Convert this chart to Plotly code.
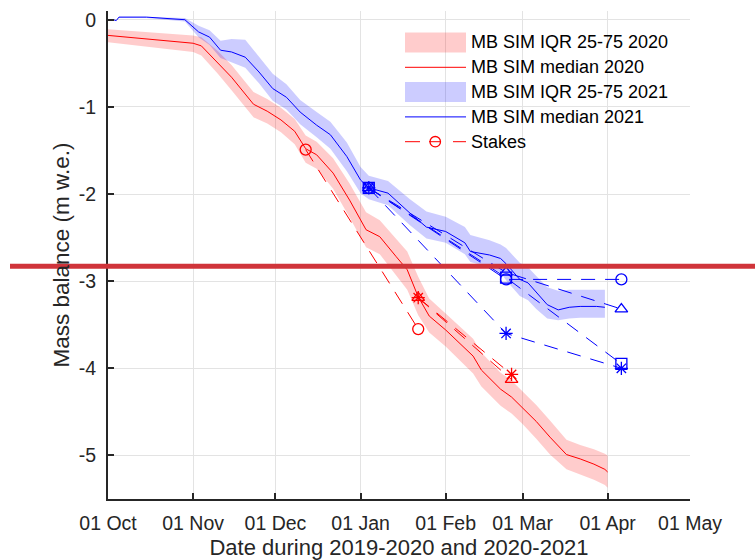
import plotly.graph_objects as go

# ---------------- data ----------------
# Season 2019-2020 (red), plotted on a common Oct-May calendar
red_dates = ["2020-10-01", "2020-10-15", "2020-11-01", "2020-11-04", "2020-11-10", "2020-11-15",
             "2020-11-23", "2020-11-28", "2020-12-03", "2020-12-08", "2020-12-12", "2020-12-16",
             "2020-12-22", "2020-12-28", "2021-01-03", "2021-01-08", "2021-01-14", "2021-01-18",
             "2021-01-22", "2021-01-26", "2021-02-01", "2021-02-06", "2021-02-11", "2021-02-14",
             "2021-02-18", "2021-02-21", "2021-02-25", "2021-03-01", "2021-03-06", "2021-03-11",
             "2021-03-17", "2021-03-22", "2021-03-27", "2021-03-31", "2021-04-01"]
red_median = [-0.18, -0.22, -0.27, -0.30, -0.49, -0.66, -0.97, -1.05, -1.15, -1.28, -1.48, -1.55,
              -1.76, -2.07, -2.41, -2.49, -2.72, -2.87, -3.18, -3.40, -3.56, -3.71, -3.86, -4.02,
              -4.14, -4.24, -4.33, -4.45, -4.61, -4.79, -4.99, -5.04, -5.10, -5.16, -5.19]
red_q25 = [-0.26, -0.31, -0.37, -0.41, -0.62, -0.81, -1.12, -1.19, -1.29, -1.43, -1.64, -1.71,
           -1.94, -2.27, -2.61, -2.69, -2.93, -3.10, -3.39, -3.59, -3.75, -3.91, -4.06, -4.21,
           -4.33, -4.43, -4.52, -4.64, -4.81, -4.99, -5.16, -5.22, -5.28, -5.34, -5.37]
red_q75 = [-0.11, -0.14, -0.18, -0.20, -0.36, -0.52, -0.83, -0.91, -1.01, -1.14, -1.33, -1.40,
           -1.59, -1.88, -2.21, -2.30, -2.52, -2.66, -2.95, -3.20, -3.37, -3.51, -3.66, -3.82,
           -3.95, -4.05, -4.14, -4.26, -4.42, -4.60, -4.82, -4.88, -4.93, -4.98, -5.00]

# Season 2020-2021 (blue)
blue_dates = ["2020-10-01", "2020-10-03", "2020-10-04", "2020-10-05", "2020-10-15", "2020-10-29",
              "2020-11-03", "2020-11-07", "2020-11-11", "2020-11-15", "2020-11-20", "2020-11-25",
              "2020-11-30", "2020-12-05", "2020-12-10", "2020-12-16", "2020-12-21", "2020-12-27",
              "2021-01-01", "2021-01-04", "2021-01-11", "2021-01-19", "2021-01-25", "2021-02-01",
              "2021-02-08", "2021-02-10", "2021-02-17", "2021-02-21", "2021-02-23", "2021-02-28",
              "2021-03-03", "2021-03-06", "2021-03-10", "2021-03-14", "2021-03-18", "2021-03-22",
              "2021-03-28", "2021-03-31"]
blue_median = [0.00, 0.00, -0.01, 0.03, 0.03, 0.00, -0.14, -0.20, -0.35, -0.37, -0.43, -0.60,
               -0.79, -0.89, -1.06, -1.21, -1.32, -1.57, -1.84, -1.93, -1.99, -2.22, -2.38, -2.43,
               -2.56, -2.66, -2.70, -2.74, -2.80, -2.98, -3.02, -3.13, -3.27, -3.33, -3.30, -3.29,
               -3.29, -3.30]
blue_q25 = [0.00, 0.00, -0.01, 0.02, 0.02, -0.02, -0.20, -0.29, -0.44, -0.49, -0.55, -0.73,
            -0.93, -1.03, -1.20, -1.35, -1.48, -1.74, -1.99, -2.06, -2.13, -2.36, -2.51, -2.56,
            -2.69, -2.78, -2.84, -2.90, -2.99, -3.17, -3.22, -3.32, -3.43, -3.45, -3.43, -3.42,
            -3.42, -3.42]
blue_q75 = [0.00, 0.00, -0.01, 0.03, 0.03, 0.02, -0.07, -0.12, -0.24, -0.22, -0.23, -0.43,
            -0.62, -0.74, -0.92, -1.06, -1.17, -1.41, -1.69, -1.79, -1.85, -2.06, -2.20, -2.26,
            -2.38, -2.47, -2.53, -2.58, -2.62, -2.79, -2.84, -2.94, -3.07, -3.11, -3.10, -3.10,
            -3.10, -3.10]

# Stakes 2019-2020 (red)
red_stake_circle_dates = ["2020-12-12", "2021-01-22"]
red_stake_circle_mb = [-1.49, -3.55]
red_stake_triangle_dates = ["2021-01-22", "2021-02-25"]
red_stake_triangle_mb = [-3.19, -4.13]
red_stake_asterisk_dates = ["2021-01-22", "2021-02-25"]
red_stake_asterisk_mb = [-3.19, -4.07]

# Stakes 2020-2021 (blue)
blue_stake_dates = ["2021-01-04", "2021-02-23", "2021-04-06"]
blue_stake_circle_mb = [-1.93, -2.98, -2.98]
blue_stake_triangle_mb = [-1.93, -2.90, -3.32]
blue_stake_square_mb = [-1.93, -2.96, -3.95]
blue_stake_asterisk_mb = [-1.93, -3.60, -4.00]

x_tick_vals = ["2020-10-01", "2020-11-01", "2020-12-01", "2021-01-01", "2021-02-01",
               "2021-03-01", "2021-04-01", "2021-05-01"]
x_tick_text = ["01 Oct", "01 Nov", "01 Dec", "01 Jan", "01 Feb", "01 Mar", "01 Apr", "01 May"]
y_tick_vals = [-5, -4, -3, -2, -1, 0]
y_tick_text = ["-5", "-4", "-3", "-2", "-1", "0"]
legend_labels = ["MB SIM IQR 25-75 2020", "MB SIM median 2020", "MB SIM IQR 25-75 2021",
                 "MB SIM median 2021", "Stakes"]
highlight_level = -2.83

# ---------------- figure ----------------
FONT = "Liberation Sans, Arial, sans-serif"
TXT = "#262626"
RED = "#ff0000"
BLUE = "#0000ff"
RED_FILL = "rgba(255,0,0,0.2)"
BLUE_FILL = "rgba(0,0,255,0.2)"
DASH = "14px,10px"
fig = go.Figure()

# IQR 2020
fig.add_trace(go.Scatter(x=red_dates, y=red_q75, mode="lines", line=dict(width=0),
                         showlegend=False, hoverinfo="skip"))
fig.add_trace(go.Scatter(x=red_dates, y=red_q25, mode="lines", line=dict(width=0),
                         fill="tonexty", fillcolor=RED_FILL, showlegend=False,
                         name=legend_labels[0]))
fig.add_trace(go.Scatter(x=red_dates, y=red_median, mode="lines", showlegend=False,
                         line=dict(color=RED, width=1), name=legend_labels[1]))
# IQR 2021
fig.add_trace(go.Scatter(x=blue_dates, y=blue_q75, mode="lines", line=dict(width=0),
                         showlegend=False, hoverinfo="skip"))
fig.add_trace(go.Scatter(x=blue_dates, y=blue_q25, mode="lines", line=dict(width=0),
                         fill="tonexty", fillcolor=BLUE_FILL, showlegend=False,
                         name=legend_labels[2]))
fig.add_trace(go.Scatter(x=blue_dates, y=blue_median, mode="lines", showlegend=False,
                         line=dict(color=BLUE, width=1), name=legend_labels[3]))


def stake(x, y, color, symbol, name=None):
    fig.add_trace(go.Scatter(
        x=x, y=y, mode="lines+markers", name=name, showlegend=False,
        line=dict(color=color, width=1, dash=DASH),
        marker=dict(symbol=symbol, size=11, color=color,
                    line=dict(color=color, width=1.3))))


stake(red_stake_circle_dates, red_stake_circle_mb, RED, "circle-open", legend_labels[4])
stake(red_stake_triangle_dates, red_stake_triangle_mb, RED, "triangle-up-open")
stake(red_stake_asterisk_dates, red_stake_asterisk_mb, RED, "asterisk-open")
stake(blue_stake_dates, blue_stake_circle_mb, BLUE, "circle-open")
stake(blue_stake_dates, blue_stake_triangle_mb, BLUE, "triangle-up-open")
stake(blue_stake_dates, blue_stake_square_mb, BLUE, "square-open")
stake(blue_stake_dates, blue_stake_asterisk_mb, BLUE, "asterisk-open")

# ---------------- layout geometry ----------------
W, H = 755, 560
ML, MR, MT, MB = 108, 65, 11, 61
PW, PH = W - ML - MR, H - MT - MB


def px(xp):
    return (xp - ML) / PW


def py(yp):
    return (H - MB - yp) / PH


y0, y1 = -5.5, 0.1

# manual legend (wide symbols as in the original)
rows = [42.5, 67.3, 92.1, 116.9, 141.7]
sx0, sx1 = 405, 466
shapes = []
annotations = []
shapes.append(dict(type="rect", xref="paper", yref="paper", x0=px(sx0), x1=px(sx1),
                   y0=py(rows[0] - 10), y1=py(rows[0] + 10), fillcolor=RED_FILL,
                   line=dict(width=0), layer="above"))
shapes.append(dict(type="line", xref="paper", yref="paper", x0=px(sx0), x1=px(sx1),
                   y0=py(rows[1]), y1=py(rows[1]), line=dict(color=RED, width=1), layer="above"))
shapes.append(dict(type="rect", xref="paper", yref="paper", x0=px(sx0), x1=px(sx1),
                   y0=py(rows[2] - 10), y1=py(rows[2] + 10), fillcolor=BLUE_FILL,
                   line=dict(width=0), layer="above"))
shapes.append(dict(type="line", xref="paper", yref="paper", x0=px(sx0), x1=px(sx1),
                   y0=py(rows[3]), y1=py(rows[3]), line=dict(color=BLUE, width=1), layer="above"))
shapes.append(dict(type="line", xref="paper", yref="paper", x0=px(sx0), x1=px(sx0 + 15),
                   y0=py(rows[4]), y1=py(rows[4]), line=dict(color=RED, width=1), layer="above"))
shapes.append(dict(type="line", xref="paper", yref="paper", x0=px(sx1 - 13), x1=px(sx1),
                   y0=py(rows[4]), y1=py(rows[4]), line=dict(color=RED, width=1), layer="above"))
shapes.append(dict(type="line", xref="paper", yref="paper", x0=px(429), x1=px(441),
                   y0=py(rows[4]), y1=py(rows[4]), line=dict(color=RED, width=1), layer="above"))
shapes.append(dict(type="circle", xref="paper", yref="paper", x0=px(430), x1=px(440.5),
                   y0=py(rows[4] + 5.2), y1=py(rows[4] - 5.2), fillcolor="rgba(0,0,0,0)",
                   line=dict(color=RED, width=1.3), layer="above"))
for lab, r in zip(legend_labels, rows):
    annotations.append(dict(text=lab, xref="paper", yref="paper", x=px(469), y=py(r),
                            xanchor="left", yanchor="middle", showarrow=False,
                            font=dict(family=FONT, size=18, color="#000000")))

# highlight line across the figure
yp = (highlight_level - y0) / (y1 - y0)
shapes.append(dict(type="line", xref="paper", yref="paper", x0=px(10), x1=px(760), y0=yp, y1=yp,
                   line=dict(color="rgb(208,52,58)", width=5), layer="above"))

fig.update_layout(
    width=W, height=H,
    margin=dict(l=ML, r=MR, t=MT, b=MB, autoexpand=False),
    paper_bgcolor="white", plot_bgcolor="white",
    font=dict(family=FONT, color=TXT, size=19),
    showlegend=False,
    shapes=shapes, annotations=annotations,
)
fig.update_xaxes(
    type="date", range=["2020-10-01", "2021-05-01"], automargin=False,
    tickmode="array", tickvals=x_tick_vals, ticktext=x_tick_text,
    showgrid=True, gridcolor="#e3e3e3", gridwidth=1,
    showline=True, linecolor=TXT, linewidth=2,
    ticks="inside", ticklen=6, tickwidth=2, tickcolor=TXT,
    tickfont=dict(size=19.5, color=TXT), zeroline=False, ticklabelstandoff=6,
    title=dict(text="Date during 2019-2020 and 2020-2021", font=dict(size=22, color=TXT),
               standoff=10),
)
fig.update_yaxes(
    range=[y0, y1], automargin=False,
    tickmode="array", tickvals=y_tick_vals, ticktext=y_tick_text,
    showgrid=True, gridcolor="#e3e3e3", gridwidth=1,
    showline=True, linecolor=TXT, linewidth=2,
    ticks="inside", ticklen=6, tickwidth=2, tickcolor=TXT,
    tickfont=dict(size=19.5, color=TXT), zeroline=False, ticklabelstandoff=6,
    title=dict(text="Mass balance (m w.e.)", font=dict(size=22.5, color=TXT), standoff=3),
)

fig.write_html("out.html")
